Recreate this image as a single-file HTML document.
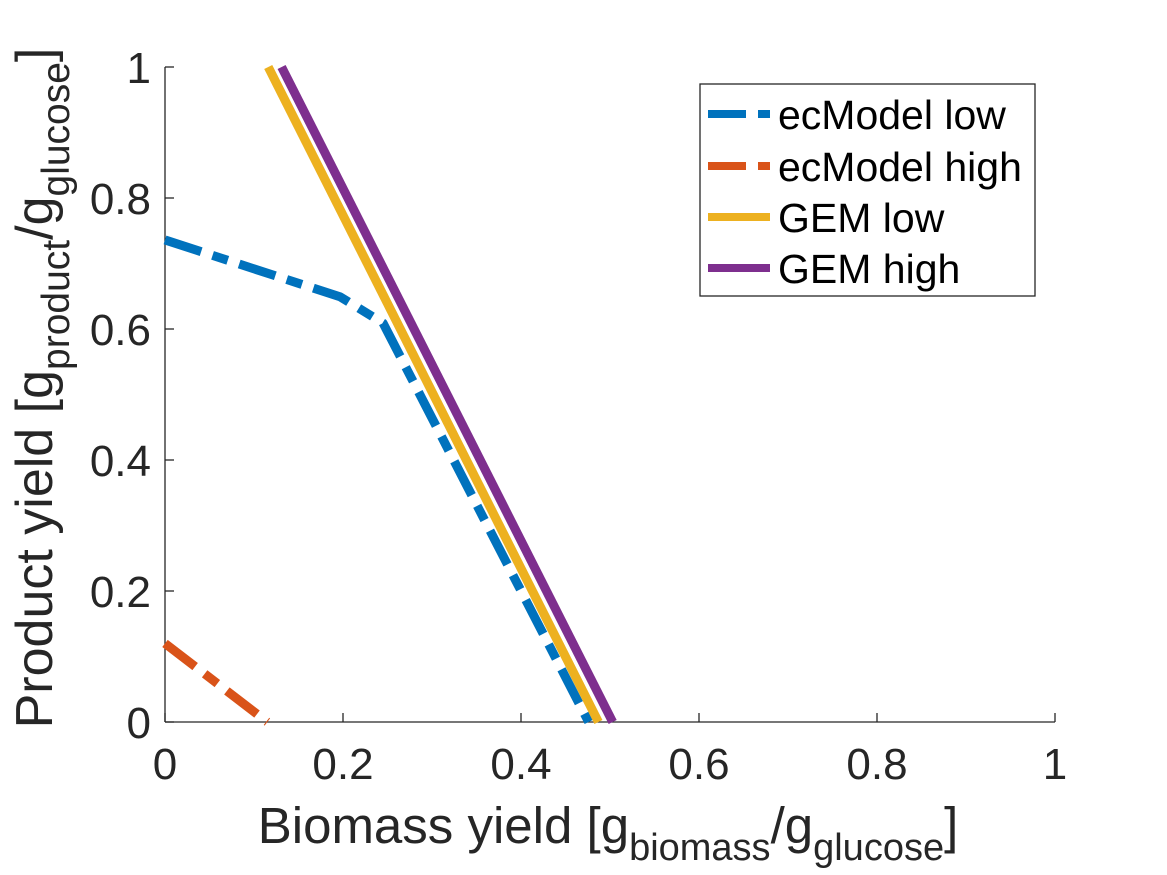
<!DOCTYPE html>
<html><head><meta charset="utf-8"><style>
html,body{margin:0;padding:0;background:#fff}
svg{display:block;font-family:"Liberation Sans",Arial,sans-serif}
</style></head><body>
<svg id="chart" width="1167" height="875" viewBox="0 0 1167 875">
<g id="axes"></g>
<g id="series"></g>
<text x="608" y="843" text-anchor="middle" font-size="51" fill="#262626">Biomass yield [g<tspan font-size="38" dy="17">biomass</tspan><tspan dy="-17">/g</tspan><tspan font-size="38" dy="17">glucose</tspan><tspan dy="-17">]</tspan></text>
<text transform="translate(52,388) rotate(-90)" text-anchor="middle" font-size="52" fill="#262626">Product yield [g<tspan font-size="39" dy="17">product</tspan><tspan dy="-17">/g</tspan><tspan font-size="39" dy="17">glucose</tspan><tspan dy="-17">]</tspan></text>
<g>
<rect x="700" y="84" width="335" height="212" fill="#fff" stroke="#262626" stroke-width="1.3"/>
<g id="legend-items"></g>
</g>
</svg>
<script>
const xTicks=[0,0.2,0.4,0.6,0.8,1];
const yTicks=[0,0.2,0.4,0.6,0.8,1];
const tickLabels=["0","0.2","0.4","0.6","0.8","1"];
const seriesNames=["ecModel low","ecModel high","GEM low","GEM high"];
const ecLowX=[0,0.197,0.245,0.476];
const ecLowY=[0.736,0.649,0.609,0];
const ecHighX=[0,0.115];
const ecHighY=[0.12,0];
const gemLowX=[0.116,0.487];
const gemLowY=[1,0];
const gemHighX=[0.131,0.503];
const gemHighY=[1,0];
const NS="http://www.w3.org/2000/svg";
const X0=165,X1=1055,Y0=722,Y1=67;
const sx=v=>X0+v*(X1-X0), sy=v=>Y0-v*(Y0-Y1);
function mk(t,a,p){const e=document.createElementNS(NS,t);for(const k in a)e.setAttribute(k,a[k]);p.appendChild(e);return e;}
const ax=document.getElementById('axes');
mk('line',{x1:X0,y1:Y0,x2:X1,y2:Y0,stroke:'#262626','stroke-width':1.3},ax);
mk('line',{x1:X0,y1:Y0,x2:X0,y2:Y1,stroke:'#262626','stroke-width':1.3},ax);
xTicks.forEach((v,i)=>{
  const l=mk('line',{x1:sx(v),y1:Y0,x2:sx(v),y2:Y0-9,stroke:'#262626','stroke-width':1.3},ax);
  
  
  const t=mk('text',{x:sx(v),y:Y0+57,'text-anchor':'middle','font-size':44,fill:'#262626'},ax);
  t.textContent=tickLabels[i];
  
  
});
yTicks.forEach((v,i)=>{
  const l=mk('line',{x1:X0,y1:sy(v),x2:X0+9,y2:sy(v),stroke:'#262626','stroke-width':1.3},ax);
  
  
  const t=mk('text',{x:X0-14,y:sy(v)+16,'text-anchor':'end','font-size':44,fill:'#262626'},ax);
  t.textContent=tickLabels[i];
  
  
});
const styles=[
 {xs:ecLowX,ys:ecLowY,c:'#0072BD',d:'38 12 16 12',n:'ecmodel-low-line'},
 {xs:ecHighX,ys:ecHighY,c:'#D95319',d:'38 12 16 12',n:'ecmodel-high-line'},
 {xs:gemLowX,ys:gemLowY,c:'#EDB120',d:'',n:'gem-low-line'},
 {xs:gemHighX,ys:gemHighY,c:'#7E2F8E',d:'',n:'gem-high-line'}];
const sg=document.getElementById('series');
styles.forEach(s=>{
  const pts=s.xs.map((x,i)=>sx(x)+','+sy(s.ys[i])).join(' ');
  const p=mk('polyline',{points:pts,fill:'none',stroke:s.c,'stroke-width':9,'stroke-linejoin':'round'},sg);
  if(s.d)p.setAttribute('stroke-dasharray',s.d);
  
  
});
const lg=document.getElementById('legend-items');
const ly=[114,166,217,268];
styles.forEach((s,i)=>{
  const g=mk('g',{},lg);
  
  
  const l=mk('line',{x1:708,y1:ly[i],x2:770,y2:ly[i],stroke:s.c,'stroke-width':8},g);
  if(s.d)l.setAttribute('stroke-dasharray','38 12 12 12');
  const t=mk('text',{x:778,y:ly[i]+15,'font-size':41,fill:'#000'},g);
  t.textContent=seriesNames[i];
});
</script>
</body></html>
